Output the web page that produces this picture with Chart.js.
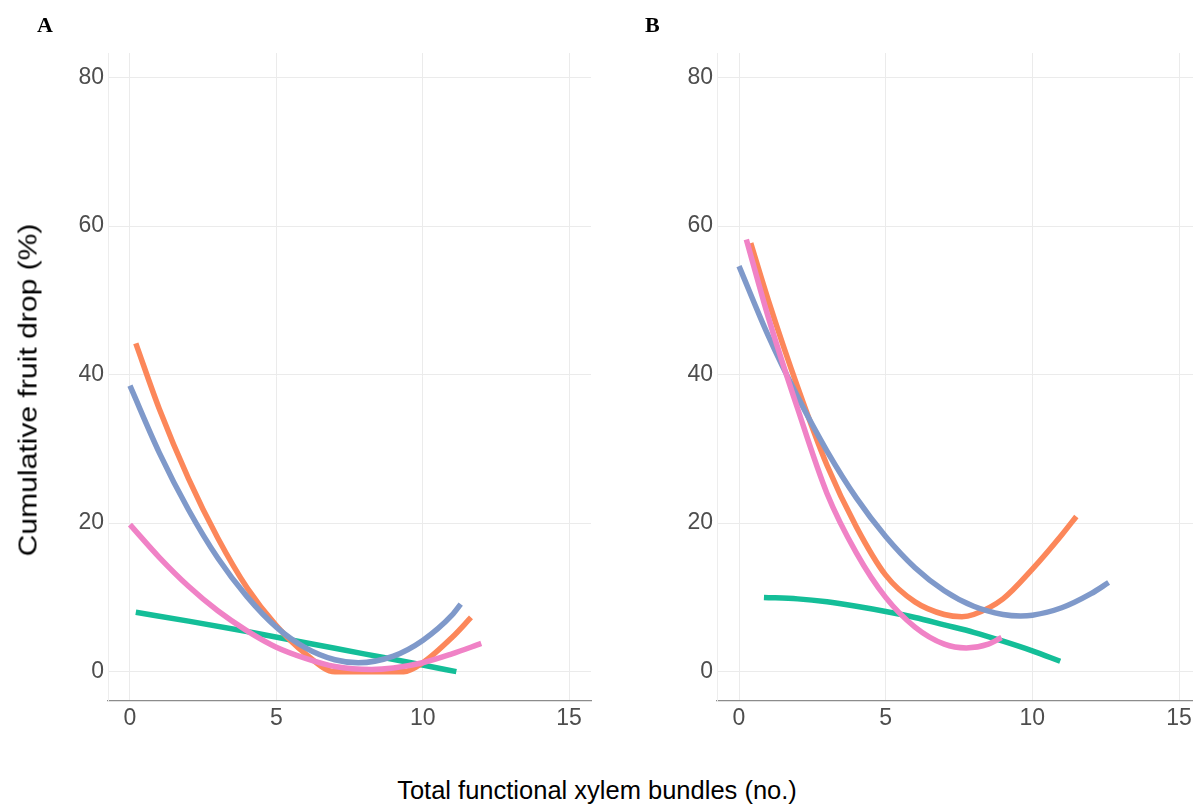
<!DOCTYPE html>
<html>
<head>
<meta charset="utf-8">
<script src="https://cdn.jsdelivr.net/npm/chart.js@4.4.1/dist/chart.umd.min.js"></script>
<style>
  html, body { margin: 0; padding: 0; background: #fff; overflow: hidden; width: 1193px; height: 806px; }
  canvas { position: absolute; top: 0; }
  #chartA { left: 0; }
  #chartB { left: 600px; }
  .panel { position: absolute; font-family: "Liberation Serif", serif; font-weight: bold; font-size: 22px; color: #000; }
  .ttl { position: absolute; font-family: "Liberation Sans", Arial, sans-serif; font-size: 25.5px; color: #000; white-space: nowrap; }
</style>
</head>
<body>
<canvas id="chartA" width="600" height="760"></canvas>
<canvas id="chartB" width="610" height="760"></canvas>
<div class="panel" style="left:37px; top:12px;">A</div>
<div class="panel" style="left:645px; top:12px;">B</div>
<div class="ttl" style="left:28px; top:390px; transform: translate(-50%, -50%) rotate(-90deg) scaleX(1.18);">Cumulative fruit drop (%)</div>
<div class="ttl" style="left:597px; top:790px; transform: translate(-50%, -50%);">Total functional xylem bundles (no.)</div>

<script>
// tick labels
const xTicks = [0, 5, 10, 15];
const yTicks = [0, 20, 40, 60, 80];

// panel A
const aGreenX  = [0.2, 2, 4, 6, 8, 10, 11.15];
const aGreenY  = [8.0, 6.8, 5.4, 3.9, 2.4, 0.9, 0.0];
const aOrangeX = [0.2, 1, 2, 3, 4, 5, 6, 7, 8, 9.35, 10, 11, 11.65];
const aOrangeY = [44.2, 35.4, 26.0, 18.0, 11.3, 6.2, 2.4, 0, 0, 0, 1.2, 4.6, 7.3];
const aBlueX   = [0, 1, 2, 3, 4, 5, 6, 7, 7.8, 9, 10, 11, 11.3];
const aBlueY   = [38.5, 29.5, 21.8, 15.3, 10.1, 6.0, 3.2, 1.6, 1.2, 2.1, 4.2, 7.6, 9.1];
const aPinkX   = [0, 1, 2, 3, 4, 5, 6, 7, 8.25, 9, 10, 11, 12];
const aPinkY   = [19.8, 15.4, 11.5, 8.2, 5.5, 3.3, 1.8, 0.7, 0.3, 0.5, 1.2, 2.4, 3.8];

// panel B
const bGreenX  = [0.85, 2, 3, 4, 5, 6, 7, 8, 9, 10, 10.95];
const bGreenY  = [10.0, 9.8, 9.4, 8.8, 8.1, 7.3, 6.3, 5.3, 4.1, 2.8, 1.4];
const bOrangeX = [0.4, 1, 2, 3, 4, 5, 6, 7, 7.6, 8, 9, 10, 11, 11.5];
const bOrangeY = [57.7, 50.0, 38.3, 27.8, 19.5, 13.0, 9.4, 7.7, 7.4, 7.7, 9.8, 13.8, 18.4, 20.9];
const bBlueX   = [0, 1, 2, 3, 4, 5, 6, 7, 8, 9, 9.6, 10, 11, 12, 12.6];
const bBlueY   = [54.6, 45.2, 37.0, 29.7, 23.4, 18.2, 14.0, 10.9, 8.8, 7.7, 7.5, 7.6, 8.6, 10.5, 12.0];
const bPinkX   = [0.25, 1, 2, 3, 4, 5, 6, 7, 7.75, 8.5, 8.95];
const bPinkY   = [58.2, 47.7, 35.4, 24.0, 16.0, 10.0, 6.0, 3.7, 3.2, 3.7, 4.6];

const colGreen = '#14BE98';
const colOrange = '#FC875A';
const colBlue = '#7F99CA';
const colPink = '#F082C6';

function pts(xs, ys) {
    return xs.map((x, i) => ({ x: x, y: ys[i] }));
}

function serie(xs, ys, color) {
    return {
        data: pts(xs, ys),
        borderColor: color,
        borderWidth: 5.5,
        pointRadius: 0,
        fill: false,
        cubicInterpolationMode: 'monotone'
    };
}

function fesGrafic(id, series, yAxisWidth, padRight) {
    const tickFont = { family: '"Liberation Sans", Arial, sans-serif', size: 23 };
    new Chart(document.getElementById(id), {
        type: 'line',
        data: { datasets: series },
        options: {
            responsive: false,
            animation: false,
            devicePixelRatio: 1,
            layout: { padding: { top: 53, right: padRight, left: 0, bottom: 0 } },
            plugins: { legend: { display: false }, tooltip: { enabled: false } },
            scales: {
                x: {
                    type: 'linear',
                    min: -0.75,
                    max: 15.75,
                    afterBuildTicks: s => { s.ticks = xTicks.map(v => ({ value: v })); },
                    afterFit: s => { s.height = 59; },
                    grid: { color: '#EBEBEB', lineWidth: 1, drawTicks: false },
                    border: { color: '#8C8C8C', width: 1.2 },
                    ticks: { color: '#4D4D4D', font: tickFont, padding: 4, maxRotation: 0 }
                },
                y: {
                    type: 'linear',
                    min: -3.95,
                    max: 83.3,
                    afterBuildTicks: s => { s.ticks = yTicks.map(v => ({ value: v })); },
                    afterFit: s => { s.width = yAxisWidth; },
                    grid: { color: '#EBEBEB', lineWidth: 1, drawTicks: false },
                    border: { color: '#EDEDED', width: 1 },
                    ticks: { color: '#4D4D4D', font: tickFont, padding: 4 }
                }
            }
        }
    });
}

fesGrafic('chartA', [
    serie(aPinkX, aPinkY, colPink),
    serie(aBlueX, aBlueY, colBlue),
    serie(aOrangeX, aOrangeY, colOrange),
    serie(aGreenX, aGreenY, colGreen)
], 108, 9);

fesGrafic('chartB', [
    serie(bPinkX, bPinkY, colPink),
    serie(bBlueX, bBlueY, colBlue),
    serie(bOrangeX, bOrangeY, colOrange),
    serie(bGreenX, bGreenY, colGreen)
], 117, 9);
</script>
</body>
</html>
